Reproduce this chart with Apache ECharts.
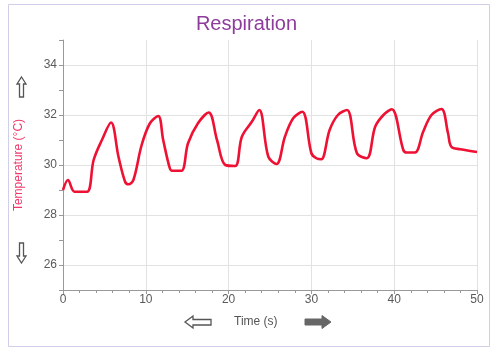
<!DOCTYPE html>
<html>
<head>
<meta charset="utf-8">
<script src="https://cdn.jsdelivr.net/npm/echarts@6/dist/echarts.min.js"></script>
<style>
  html, body { margin: 0; padding: 0; background: #fff; }
  #chart { width: 493px; height: 349px; }
</style>
</head>
<body>
<div id="chart"></div>
<script>
// time (s) and temperature (°C)
const times = [0, 0.6, 1.4, 2.9, 3.7, 4.7, 5.8, 6.7, 7.5, 7.9, 8.5, 9.5, 10.5, 11.5, 12.1, 12.9, 13.2, 14.3,
  15.1, 16.3, 17.6, 18.6, 19.6, 20.8, 21.6, 22.8, 23.7, 24.8, 25.8, 26.8, 27.8, 28.9, 30.0, 30.6, 31.2,
  32.2, 33.2, 34.3, 35.5, 36.7, 37.7, 38.7, 39.7, 41.1, 41.5, 42.5, 43.5, 44.5, 45.7, 46.5, 46.9, 48, 50];
const temps = [29.0, 29.4, 28.93, 28.93, 30.2, 31.0, 31.7, 30.33, 29.33, 29.23, 29.4, 30.8, 31.67, 31.96, 31.0, 29.87, 29.77, 29.77,
  30.87, 31.67, 32.1, 31.0, 30.0, 29.96, 31.13, 31.73, 32.2, 30.33, 30.04, 31.13, 31.87, 32.13, 30.47, 30.27, 30.23,
  31.4, 32.0, 32.2, 30.47, 30.27, 31.53, 32.0, 32.23, 30.6, 30.5, 30.5, 31.33, 32.0, 32.24, 31.27, 30.73, 30.63, 30.52];
const yTickLabels = [26, 28, 30, 32, 34];

const myChart = echarts.init(document.getElementById('chart'));
const labelFont = { color: '#5a5a5a', fontSize: 12, fontFamily: 'Liberation Sans' };

const option = {
  animation: false,
  title: {
    text: 'Respiration',
    left: 'center',
    top: 9,
    textStyle: { color: '#8E3C9C', fontSize: 20, fontWeight: 'normal', fontFamily: 'Liberation Sans' },
  },
  grid: { left: 63, right: 16, top: 40, bottom: 59 },
  xAxis: {
    type: 'value',
    min: 0,
    max: 50,
    interval: 10,
    axisLine: { lineStyle: { color: '#999' } },
    axisTick: { show: true, length: 4, lineStyle: { color: '#999' } },
    minorTick: { show: true, splitNumber: 5, length: 3, lineStyle: { color: '#999' } },
    axisLabel: Object.assign({ margin: 4 }, labelFont),
    splitLine: { show: true, lineStyle: { color: '#e2e2e2' } },
  },
  yAxis: {
    type: 'value',
    min: 25,
    max: 35,
    interval: 1,
    name: 'Temperature (°C)',
    nameLocation: 'middle',
    nameGap: 38,
    nameTextStyle: { color: '#F0386B', fontSize: 12, fontFamily: 'Liberation Sans' },
    axisLine: { show: true, lineStyle: { color: '#999' } },
    axisTick: { show: true, length: 4, lineStyle: { color: '#999' } },
    axisLabel: Object.assign({
      margin: 6,
      formatter: (v) => (yTickLabels.indexOf(v) >= 0 ? String(v) : ''),
    }, labelFont),
    splitLine: { show: true, lineStyle: { color: ['rgba(0,0,0,0)', '#e2e2e2'] } },
  },
  graphic: [
    { type: 'rect', shape: { x: 8.5, y: 4.5, width: 481, height: 342 }, style: { fill: 'none', stroke: '#cfcfe8', lineWidth: 1 }, z: -1 },
    // up / down arrows by the y axis
    { type: 'polygon', shape: { points: [[21.5, 77], [26, 84], [23.5, 84], [23.5, 97], [19.5, 97], [19.5, 84], [17, 84]] },
      style: { fill: '#fff', stroke: '#555', lineWidth: 1.3 } },
    { type: 'polygon', shape: { points: [[21.5, 263], [26, 256], [23.5, 256], [23.5, 243], [19.5, 243], [19.5, 256], [17, 256]] },
      style: { fill: '#fff', stroke: '#555', lineWidth: 1.3 } },
    // left / right arrows by the x axis title
    { type: 'polygon', shape: { points: [[185, 322], [193, 316], [193, 319.5], [211, 319.5], [211, 325], [193, 325], [193, 328]] },
      style: { fill: '#fff', stroke: '#555', lineWidth: 1.3 } },
    { type: 'polygon', shape: { points: [[331, 322], [322, 315.5], [322, 319], [305, 319], [305, 325], [322, 325], [322, 328.5]] },
      style: { fill: '#666', stroke: '#666', lineWidth: 1 } },
    { type: 'text', left: 234, top: 316, style: { text: 'Time (s)', fill: '#555', fontSize: 12, fontFamily: 'Liberation Sans' } },
  ],
  series: [
    {
      type: 'line',
      data: times.map((t, i) => [t, temps[i]]),
      showSymbol: false,
      smooth: 0.35,
      lineStyle: { color: '#EE1133', width: 2.6 },
    },
  ],
};
myChart.setOption(option);
</script>
</body>
</html>
